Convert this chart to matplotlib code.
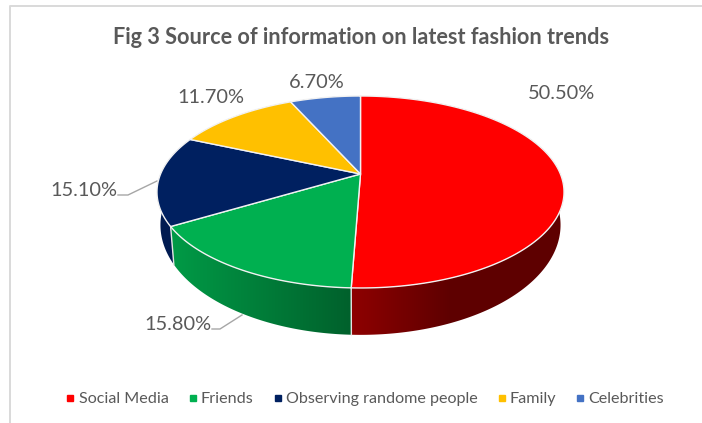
import numpy as np
import matplotlib
matplotlib.use('Agg')
import matplotlib.pyplot as plt
from matplotlib.lines import Line2D
from matplotlib.patches import Polygon

# Data
categories = ['Social Media', 'Friends', 'Observing randome people', 'Family', 'Celebrities']
shares = [50.5, 15.8, 15.1, 11.7, 6.7]
colors = ['#FF0000', '#00B050', '#002060', '#FFC000', '#4472C4']
title = 'Fig 3 Source of information on latest fashion trends'

plt.rcParams['font.family'] = ['Lato', 'DejaVu Sans']

fig = plt.figure(figsize=(7.02, 4.23), dpi=100)
ax = fig.add_axes([0, 0, 1, 1])
ax.set_xlim(0, 702)
ax.set_ylim(423, 0)
ax.axis('off')

# Disc geometry in pixels, tilted with some perspective
KEEN = 0.1875
TOP = dict(cx=360.5, cy=174.0, c=199.9, a=92.6)
BASE = dict(cx=360.5, cy=204.4, c=196.5, a=106.0)

# Wall brightness for each slice: left end, right end, x where the right end is reached
wall_shading = [(0.56, 0.37, 450), (0.88, 0.55, 351), (0.85, 0.85, 180), (0.6, 0.6, 400), (0.6, 0.6, 400)]


def project(angle, radius, disc):
    # angle runs clockwise from twelve o'clock
    u = radius * np.sin(angle)
    v = radius * np.cos(angle)
    w = 1 + KEEN * v
    return disc['cx'] + disc['c'] * u / w, disc['cy'] - disc['a'] * v / w


edges = np.radians(np.concatenate([[0], np.cumsum(shares)]) / sum(shares) * 360)

# Outer wall: a horizontal gradient clipped to each slice's outline
for i, color in enumerate(colors):
    steps = np.linspace(edges[i], edges[i + 1], 200)
    tx, ty = project(steps, 1, TOP)
    bx, by = project(steps, 1, BASE)
    xs = np.concatenate([tx, bx[::-1]])
    ys = np.concatenate([ty, by[::-1]])
    outline = Polygon(np.column_stack([xs, ys]), closed=True, facecolor=color, edgecolor='none',
                      transform=ax.transData)
    ax.add_patch(outline)
    outline.set_visible(False)
    left, right, stop = wall_shading[i]
    grid = np.arange(int(xs.min()) - 1, int(xs.max()) + 2)
    fade = np.interp(grid, [grid[0], max(stop, grid[0] + 1)], [left, right])
    rgb = np.array(matplotlib.colors.to_rgb(color))
    strip = (fade[:, None] * rgb)[None, :, :]
    im = ax.imshow(strip, extent=(grid[0], grid[-1], ys.max() + 1, ys.min() - 1), aspect='auto',
                   interpolation='bilinear', zorder=2)
    im.set_clip_path(outline)

ax.set_xlim(0, 702)
ax.set_ylim(423, 0)

# Light seams on the wall where two slices meet
for edge in edges[:-1]:
    x0, y0 = project(edge, 1, TOP)
    x1, y1 = project(edge, 1, BASE)
    if 90 < np.degrees(edge) < 270:
        ax.plot([x0, x1], [y0, y1], color='#E4E4E4', linewidth=1, zorder=3)

# Top face
for i, color in enumerate(colors):
    steps = np.linspace(edges[i], edges[i + 1], 200)
    rim_x, rim_y = project(steps, 1, TOP)
    apex = project(0.0, 0.0, TOP)
    points = [apex] + list(zip(rim_x, rim_y))
    ax.add_patch(Polygon(points, closed=True, facecolor=color, edgecolor='#F2F2F2',
                         linewidth=1.0, joinstyle='round', zorder=4))

# Title and chart border
ax.text(361, 37, title, fontsize=15.6, fontweight='bold', color='#595959',
        ha='center', va='center')
fig.add_artist(Line2D([10 / 702, 10 / 702, 1], [0, 1 - 6 / 423, 1 - 6 / 423],
                      color='#D9D9D9', linewidth=1.4))

# Value labels and leader lines
label_pos = [(561, 93.5), (177.5, 324.5), (83.5, 190.5), (210.5, 97.5), (317, 82.5)]
for value, (x, y) in zip(shares, label_pos):
    ax.text(x, y, f'{value:.2f}%', fontsize=14.4, color='#595959', ha='center', va='center')

ax.plot([118, 128, 157], [195, 195, 181], color='#A6A6A6', linewidth=1, zorder=1)
ax.plot([212, 220, 242], [329, 329, 315], color='#A6A6A6', linewidth=1, zorder=1)

# Legend
handles = [Line2D([], [], linestyle='none', marker='s', markersize=4.6, color=c) for c in colors]
ax.legend(handles, categories, loc='center', bbox_to_anchor=(365 / 702, 1 - 399 / 423),
          ncol=5, frameon=False, fontsize=11.6, labelcolor='#595959', handlelength=0.6,
          handletextpad=0.22, columnspacing=1.18, borderpad=0)

fig.savefig('out.png', dpi=100)
